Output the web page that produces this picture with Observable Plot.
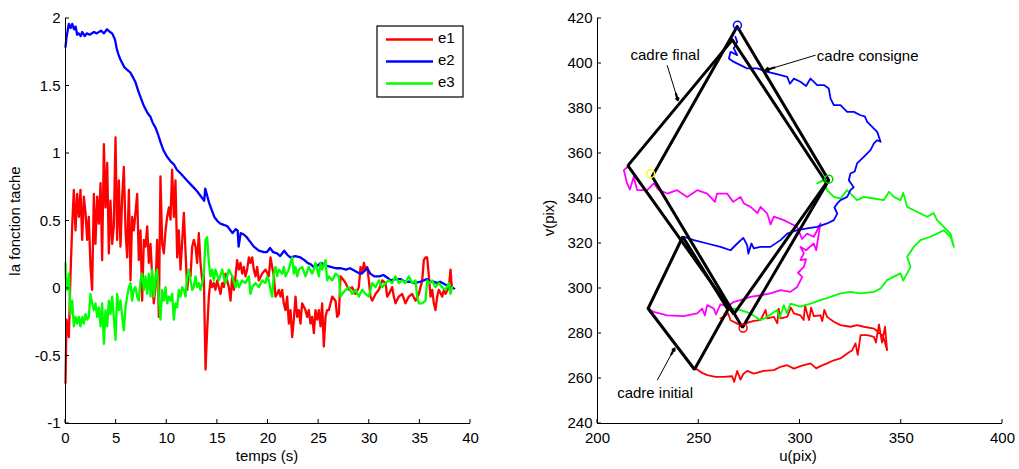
<!DOCTYPE html>
<html><head><meta charset="utf-8">
<script src="https://cdn.jsdelivr.net/npm/d3@7"></script>
<script src="https://cdn.jsdelivr.net/npm/@observablehq/plot@0.6"></script>
<style>
body{margin:0;background:#fff;}
#wrap{display:flex;width:1019px;height:469px;}
svg{font-family:"Liberation Sans",Arial,sans-serif;}
</style></head><body><div id="wrap"></div>
<script>
// ---------- Left panel data ----------
const tTicks = [0,5,10,15,20,25,30,35,40];
const eTicks = [-1,-0.5,0,0.5,1,1.5,2];
const seriesNames = ["e1","e2","e3"];
const seriesColors = ["#ff0000","#0000ff","#00ff00"];

const e1 = [[0,-0.70],[0.1,-0.23],[0.33,-0.36],[0.49,0.09],[0.66,0.46],[0.82,0.73],[0.99,0.43],[1.15,0.70],[1.32,0.53],[1.48,0.73],[1.65,0.36],[1.81,0.68],[1.98,0.56],[2.14,0.36],[2.30,0.53],[2.47,0.16],[2.63,-0.01],[2.80,0.70],[2.96,0.33],[3.13,0.68],[3.29,0.48],[3.46,0.78],[3.62,0.21],[3.79,1.07],[3.95,0.60],[4.12,0.93],[4.28,0.26],[4.44,0.65],[4.61,0.33],[4.77,0.46],[4.94,1.12],[5.10,0.36],[5.27,0.80],[5.43,0.31],[5.60,0.68],[5.76,0.90],[5.93,0.43],[6.09,0.23],[6.26,0.73],[6.42,0.06],[6.58,0.53],[6.75,0.43],[6.91,0.56],[7.08,0.70],[7.24,0.21],[7.41,0.43],[7.57,-0.09],[7.74,0.36],[7.90,0.31],[8.07,0.46],[8.23,0.19],[8.40,0.33],[8.56,0.09],[8.72,-0.11],[8.89,0.01],[9.05,0.36],[9.22,-0.21],[9.38,0.83],[9.55,0.33],[9.71,0.26],[9.88,0.43],[10.04,0.53],[10.21,0.60],[10.37,0.51],[10.53,0.88],[10.70,0.53],[10.86,0.80],[11.03,0.23],[11.19,0.43],[11.36,0.14],[11.69,0.56],[11.85,0.28],[12.02,-0.01],[12.18,0.11],[12.35,0.09],[12.51,0.31],[12.67,0.36],[12.84,0.31],[13.00,0.19],[13.17,0.41],[13.33,0.19],[13.50,0.06],[13.66,0.10],[13.83,-0.60],[13.99,-0.31],[14.16,-0.06],[14.32,0.06],[14.49,0.01],[14.65,0.04],[14.81,-0.01],[14.98,0.06],[15.14,0.01],[15.31,-0.04],[15.47,0.04],[15.64,0.01],[15.80,0.11],[16.13,0.01],[16.30,-0.09],[16.46,0.09],[16.63,-0.01],[16.79,0.09],[16.95,0.21],[17.12,0.14],[17.28,0.19],[17.45,0.11],[17.61,0.16],[17.78,0.09],[17.94,0.14],[18.11,0.23],[18.27,0.19],[18.44,0.23],[18.60,0.14],[18.77,0.09],[18.93,0.16],[19.09,0.06],[19.42,0.11],[19.75,0.14],[20.08,0.09],[20.25,0.23],[20.41,0.16],[20.58,0.09],[20.74,-0.06],[20.91,-0.04],[21.07,-0.01],[21.23,-0.06],[21.40,-0.01],[21.56,-0.11],[21.73,-0.16],[21.89,-0.06],[22.06,-0.26],[22.22,-0.16],[22.39,-0.36],[22.55,-0.23],[22.72,-0.06],[22.88,-0.21],[23.05,-0.16],[23.21,-0.26],[23.37,-0.11],[23.70,-0.16],[23.87,-0.21],[24.03,-0.16],[24.20,-0.26],[24.36,-0.21],[24.53,-0.33],[24.69,-0.16],[24.86,-0.23],[25.02,-0.16],[25.19,-0.28],[25.35,-0.11],[25.51,-0.43],[25.68,-0.21],[25.84,-0.16],[26.01,-0.16],[26.34,-0.06],[26.67,-0.09],[26.83,-0.21],[27.0,-0.19],[27.16,0.09],[27.49,0.06],[27.66,0.04],[27.98,-0.01],[28.31,0.01],[28.64,-0.04],[28.97,0.01],[29.14,0.16],[29.30,0.11],[29.47,0.19],[29.63,0.14],[29.80,0.16],[29.96,0.06],[30.12,-0.06],[30.29,-0.09],[30.62,-0.04],[30.95,-0.01],[31.28,0.06],[31.61,0.04],[31.77,-0.06],[31.94,-0.04],[32.26,0.01],[32.43,-0.06],[32.59,-0.11],[32.92,-0.06],[33.25,-0.04],[33.58,-0.11],[33.91,-0.06],[34.24,-0.04],[34.57,-0.09],[34.90,-0.04],[35.23,0.06],[35.39,0.21],[35.56,0.23],[35.72,0.23],[35.89,0.09],[36.05,-0.06],[36.22,-0.01],[36.38,-0.11],[36.54,-0.16],[36.71,-0.06],[36.87,-0.01],[37.20,-0.06],[37.37,-0.01],[37.53,-0.04],[37.86,0.01],[38.03,0.14],[38.12,0.04],[38.19,0.01]];

const e2 = [[0,1.79],[0.1,1.86],[0.33,1.96],[0.5,1.93],[0.66,1.96],[0.85,1.92],[1.0,1.94],[1.15,1.88],[1.3,1.89],[1.5,1.87],[1.65,1.90],[1.9,1.87],[2.1,1.89],[2.4,1.88],[2.8,1.90],[3.1,1.89],[3.5,1.91],[3.8,1.89],[4.1,1.92],[4.4,1.90],[4.6,1.89],[4.8,1.86],[4.9,1.84],[5.05,1.78],[5.2,1.74],[5.3,1.72],[5.4,1.70],[5.6,1.67],[5.8,1.64],[6.1,1.62],[6.4,1.60],[6.7,1.56],[6.9,1.53],[7.2,1.46],[7.4,1.42],[7.7,1.36],[8.1,1.30],[8.4,1.27],[8.6,1.23],[8.9,1.19],[9.1,1.15],[9.4,1.08],[9.7,1.02],[10.0,0.98],[10.4,0.94],[10.7,0.92],[11.0,0.88],[11.4,0.85],[12.0,0.80],[12.5,0.76],[13.0,0.72],[13.4,0.68],[13.7,0.65],[13.8,0.74],[13.95,0.70],[14.2,0.63],[14.5,0.57],[14.7,0.53],[15.0,0.50],[15.3,0.48],[15.7,0.47],[16.0,0.46],[16.3,0.43],[16.5,0.41],[16.8,0.44],[17.0,0.43],[17.1,0.31],[17.3,0.41],[17.6,0.40],[17.9,0.38],[18.3,0.34],[18.6,0.31],[19.1,0.28],[19.6,0.27],[19.9,0.27],[20.2,0.30],[20.5,0.27],[20.9,0.26],[21.2,0.24],[21.6,0.28],[21.9,0.25],[22.2,0.23],[22.7,0.24],[23.2,0.23],[23.6,0.21],[23.9,0.19],[24.2,0.18],[24.5,0.16],[24.9,0.17],[25.2,0.19],[25.7,0.17],[26.2,0.16],[26.7,0.15],[27.2,0.15],[27.7,0.14],[28.1,0.15],[28.6,0.13],[29.1,0.11],[29.4,0.12],[29.8,0.15],[30.1,0.11],[30.5,0.09],[31.0,0.09],[31.4,0.10],[31.8,0.08],[32.1,0.06],[32.6,0.07],[33.1,0.07],[33.5,0.05],[34.0,0.05],[34.5,0.04],[35.0,0.05],[35.4,0.06],[35.7,0.07],[36.0,0.05],[36.4,0.05],[36.7,0.04],[37.0,0.05],[37.5,0.03],[38.0,0.01],[38.4,0.0]];

const e3 = [[0,0.19],[0.02,0.09],[0.16,-0.01],[0.33,0.11],[0.49,-0.19],[0.66,-0.09],[0.82,-0.28],[0.99,-0.21],[1.15,-0.26],[1.32,-0.21],[1.48,-0.28],[1.65,-0.21],[1.81,-0.26],[1.98,-0.19],[2.14,-0.23],[2.30,-0.21],[2.47,-0.04],[2.63,-0.11],[2.80,-0.16],[2.96,-0.11],[3.13,-0.21],[3.29,-0.14],[3.46,-0.28],[3.62,-0.11],[3.79,-0.41],[3.95,-0.16],[4.12,-0.28],[4.28,-0.09],[4.44,-0.19],[4.61,-0.06],[4.77,-0.21],[4.94,-0.38],[5.10,-0.04],[5.27,-0.16],[5.43,-0.09],[5.60,-0.21],[5.76,-0.31],[5.93,-0.14],[6.09,-0.06],[6.26,0.01],[6.42,0.04],[6.58,-0.09],[6.75,-0.01],[6.91,0.01],[7.08,-0.06],[7.24,-0.09],[7.41,0.06],[7.57,0.11],[7.74,-0.01],[7.90,0.09],[8.07,-0.04],[8.23,0.11],[8.40,-0.06],[8.56,0.14],[8.72,-0.06],[8.89,0.09],[9.05,0.14],[9.22,-0.06],[9.38,-0.23],[9.55,-0.01],[9.71,-0.09],[9.88,0.01],[10.04,-0.11],[10.21,-0.06],[10.37,-0.09],[10.53,-0.04],[10.70,-0.23],[10.86,-0.11],[11.03,-0.14],[11.19,-0.01],[11.36,-0.06],[11.52,0.01],[11.69,-0.01],[11.85,-0.06],[12.02,0.09],[12.18,0.14],[12.35,0.06],[12.51,-0.01],[12.67,0.01],[12.84,0.09],[13.00,0.01],[13.17,0.04],[13.33,-0.01],[13.50,0.04],[13.66,0.11],[13.83,0.36],[13.99,0.38],[14.16,0.19],[14.32,0.09],[14.49,0.14],[14.65,0.06],[14.81,0.14],[15.14,0.06],[15.47,0.14],[15.80,0.04],[16.13,0.14],[16.46,0.09],[16.79,0.01],[16.95,0.06],[17.12,0.01],[17.45,0.06],[17.78,0.04],[18.11,0.09],[18.27,-0.04],[18.44,0.01],[18.77,0.04],[19.09,0.01],[19.42,0.06],[19.75,0.04],[19.91,0.09],[20.08,0.06],[20.25,-0.01],[20.41,-0.06],[20.58,0.11],[20.74,0.16],[20.91,0.09],[21.07,0.14],[21.40,0.11],[21.56,0.16],[21.73,0.09],[22.06,0.14],[22.22,0.19],[22.39,0.23],[22.55,0.11],[22.72,0.16],[22.88,0.09],[23.05,0.14],[23.37,0.16],[23.70,0.09],[24.03,0.16],[24.36,0.11],[24.53,0.14],[24.69,0.19],[24.86,0.14],[25.02,0.09],[25.19,0.19],[25.35,0.14],[25.68,0.21],[25.84,0.06],[26.01,0.09],[26.34,0.06],[26.67,0.11],[27.0,0.09],[27.16,-0.06],[27.33,-0.04],[27.66,-0.01],[27.98,0.01],[28.31,-0.04],[28.64,-0.01],[28.97,-0.06],[29.30,-0.01],[29.63,-0.04],[29.96,-0.06],[30.29,0.04],[30.62,0.01],[30.95,0.06],[31.28,0.01],[31.61,0.04],[31.94,0.06],[32.26,0.04],[32.59,0.09],[32.92,0.04],[33.25,0.06],[33.58,0.04],[33.91,0.09],[34.24,0.04],[34.57,0.06],[34.73,-0.06],[34.90,-0.11],[35.23,-0.11],[35.56,-0.09],[35.72,0.06],[35.89,0.04],[36.22,0.06],[36.54,0.01],[36.87,0.04],[37.20,0.01],[37.53,-0.01],[37.86,0.04],[38.03,-0.04],[38.19,0.01]];

// ---------- Right panel data ----------
const uTicks = [200,250,300,350,400];
const vTicks = [240,260,280,300,320,340,360,380,400,420];

const trajRed = [[248.4,264.4],[251.7,262.5],[254.2,261.5],[258.3,260.7],[262.4,260.7],[266.5,261.0],[267.5,258.5],[269.0,263.4],[270.6,259.5],[272.0,262.0],[273.9,263.4],[277.2,262.2],[282.1,263.4],[287.1,263.7],[290.4,265.2],[293.7,265.9],[297.0,264.4],[300.2,265.5],[305.2,266.7],[308.0,264.5],[310.1,265.5],[313.4,266.7],[316.7,268.1],[320.0,268.9],[323.3,271.1],[325.8,272.6],[327.4,275.6],[328.5,270.5],[329.1,274.1],[329.9,279.3],[333.2,279.3],[336.5,278.5],[337.5,276.0],[339.0,284.0],[340.5,276.0],[342.0,283.0],[343.0,272.6],[341.0,279.0],[336.5,282.2],[331.5,283.0],[328.2,283.7],[324.9,283.0],[320.0,283.7],[316.7,285.2],[313.4,287.4],[312.0,290.5],[311.0,285.5],[310.1,288.1],[306.8,287.7],[305.5,291.5],[304.5,286.0],[303.5,288.9],[302.5,292.5],[301.8,286.0],[300.2,288.1],[297.0,288.9],[295.5,291.5],[293.7,287.4],[290.4,286.7],[289.5,291.0],[288.8,284.5],[287.1,287.4],[283.8,286.7],[283.0,290.5],[280.5,285.9],[277.2,285.6],[273.9,284.7],[271.4,283.0],[269.0,284.4],[265.7,285.9],[264.5,289.0],[262.4,287.4],[260.7,286.7],[263.2,288.1]];

const trajMagenta = [[225.0,291.1],[227.8,289.6],[234.4,288.1],[242.6,287.7],[249.2,288.9],[251.7,291.1],[253.0,288.0],[254.2,292.6],[257.4,291.1],[258.5,288.5],[260.7,293.0],[264.0,291.9],[267.3,294.1],[270.6,294.8],[275.6,296.3],[280.5,297.0],[285.4,297.8],[290.4,299.3],[295.3,298.5],[298.6,300.7],[301.1,305.2],[299.0,307.0],[301.9,309.6],[303.0,313.0],[300.2,312.6],[301.9,315.6],[300.2,318.5],[303.0,317.0],[306.8,320.0],[308.0,317.0],[310.1,328.9],[308.5,325.9],[306.8,323.0],[303.5,324.4],[301.0,322.0],[298.6,327.4],[295.3,328.9],[292.0,330.4],[287.1,331.9],[285.5,328.5],[283.8,333.3],[280.5,336.3],[279.0,333.5],[275.6,336.3],[272.3,337.8],[270.6,340.7],[267.0,338.5],[264.0,342.2],[259.1,342.2],[258.0,338.5],[254.2,342.2],[249.2,343.7],[244.3,340.7],[239.3,343.7],[234.4,342.2],[230.0,344.0],[227.8,346.7],[224.5,343.7],[219.6,343.7],[217.9,349.6],[216.0,344.0],[214.6,346.7],[213.0,352.6],[215.0,354.1]];

const trajBlue = [[242.6,323.0],[247.6,321.5],[254.2,320.0],[260.7,318.5],[265.7,317.0],[269.0,320.0],[272.0,322.5],[273.9,319.3],[274.5,315.5],[276.0,320.0],[277.2,317.8],[280.5,318.5],[285.4,318.5],[290.4,321.5],[293.7,324.4],[298.6,325.9],[303.5,326.7],[308.5,327.4],[313.4,328.9],[316.7,330.4],[318.4,333.3],[317.0,336.0],[318.4,337.8],[320.0,339.3],[323.3,340.7],[324.9,343.7],[326.5,345.0],[324.1,348.1],[324.9,351.1],[327.0,352.0],[328.2,355.6],[331.5,358.5],[334.8,361.5],[336.5,364.5],[338.1,365.9],[339.8,365.2],[338.1,369.6],[336.5,371.1],[333.2,374.1],[332.0,376.5],[329.9,377.0],[326.6,378.5],[323.3,378.5],[320.0,381.5],[316.7,381.5],[315.1,384.4],[314.2,388.9],[311.8,390.4],[308.5,390.4],[305.2,393.3],[303.0,390.0],[300.2,391.9],[297.0,393.3],[295.0,391.0],[293.7,394.1],[290.4,394.8],[287.1,395.6],[283.8,396.3],[278.9,397.8],[273.9,397.8],[270.6,399.3],[267.3,400.7],[264.9,402.2],[265.7,405.2],[269.0,403.7],[267.3,406.7],[269.0,409.6],[268.1,411.9]];

const trajGreen = [[264.4,290.7],[267.3,291.1],[270.6,290.4],[275.6,288.9],[280.5,285.9],[283.8,287.4],[288.7,290.4],[290.0,287.0],[292.0,292.6],[293.5,289.0],[295.3,293.3],[300.2,291.9],[305.2,293.3],[310.1,294.8],[315.1,296.3],[320.0,297.8],[324.9,298.5],[329.9,297.8],[336.5,298.5],[339.8,300.0],[343.0,303.7],[349.6,306.7],[351.0,303.5],[354.6,309.6],[352.9,314.1],[356.2,318.5],[359.5,321.5],[364.4,323.0],[367.7,324.4],[371.0,325.9],[374.3,323.0],[376.0,318.5],[374.3,324.4],[371.0,327.4],[367.7,330.4],[366.0,333.5],[362.8,331.9],[356.2,334.8],[352.9,336.3],[351.0,342.5],[349.6,339.3],[346.3,340.7],[344.0,343.0],[341.4,339.3],[336.5,340.0],[331.5,340.7],[328.2,339.3],[324.9,342.2],[323.3,343.7],[320.0,340.0],[316.7,340.7],[313.4,343.7],[311.8,348.1],[308.5,346.7],[313.4,349.6]];

const cadreInitial = [[225.0,291.1],[242.1,323.0],[264.4,290.7],[247.9,264.0],[225.0,291.1]];
const cadreFinal = [[266.6,410.5],[313.1,347.0],[267.3,288.6],[215.0,354.6],[266.6,410.5]];
const cadreConsigne = [[269.0,416.4],[314.2,348.1],[271.6,282.7],[227.0,349.8],[269.0,416.4]];
const consignePoints = [[269.1,417.0,"#0000ff"],[314.2,348.6,"#00cc00"],[271.9,282.4,"#ff0000"],[226.2,351.0,"#ffff00"]];

const annotations = [
  {text:"cadre final",    tx:216.3, ty:403.7, u1:234.4, v1:399.2, u2:239.7, v2:383.7},
  {text:"cadre consigne", tx:308.3, ty:403.2, u1:307.7, v1:403.7, u2:283.0, v2:397.0},
  {text:"cadre initial",  tx:209.7, ty:253.5, u1:229.5, v1:259.2, u2:238.0, v2:273.3}
];

const FONT = "'Liberation Sans', Arial, sans-serif";
const fmt = d => String(d);

function addInwardTicks(plot, xt, yt, len) {
  const sx = plot.scale("x"), sy = plot.scale("y");
  const svg = d3.select(plot);
  const x0 = sx.apply(sx.domain[0]), y0 = sy.apply(sy.domain[0]);
  const g = svg.append("g").attr("stroke","#000").attr("stroke-width",1);
  xt.forEach(t => { const x = sx.apply(t);
    g.append("line").attr("x1",x).attr("x2",x).attr("y1",y0).attr("y2",y0-len); });
  yt.forEach(t => { const y = sy.apply(t);
    g.append("line").attr("x1",x0).attr("x2",x0+len).attr("y1",y).attr("y2",y); });
}

function addText(plot, x, y, txt, rotate) {
  const t = d3.select(plot).append("text")
    .attr("x", x).attr("y", y).attr("text-anchor","middle")
    .attr("dominant-baseline","middle").attr("font-size",15)
    .attr("font-family",FONT).attr("fill","#000").text(txt);
  if (rotate) t.attr("transform",`rotate(-90 ${x} ${y})`);
}

// ---------- Left plot ----------
const left = Plot.plot({
  width: 520, height: 469,
  marginLeft: 65, marginRight: 50, marginTop: 18, marginBottom: 46,
  style: {fontSize: "15px", fontFamily: FONT, color: "#000", background: "#fff"},
  x: {domain: [0,40]},
  y: {domain: [-1,2]},
  marks: [
    Plot.axisX({ticks: tTicks, tickSize: 0, tickPadding: 9, tickFormat: fmt, label: null}),
    Plot.axisY({ticks: eTicks, tickSize: 0, tickPadding: 5, tickFormat: fmt, label: null}),
    Plot.line(e1, {stroke: seriesColors[0], strokeWidth: 2.3}),
    Plot.line(e2, {stroke: seriesColors[1], strokeWidth: 2.3}),
    Plot.line(e3, {stroke: seriesColors[2], strokeWidth: 2.3}),
    Plot.ruleX([0], {stroke: "#000"}),
    Plot.ruleY([-1], {stroke: "#000"})
  ]
});
addInwardTicks(left, tTicks, eTicks, 4);
addText(left, 267, 457, "temps (s)");
addText(left, 16, 221, "la fonction tache", true);
{
  const svg = d3.select(left);
  const lg = svg.append("g");
  lg.append("rect").attr("x",377).attr("y",26).attr("width",86).attr("height",71)
    .attr("fill","#fff").attr("stroke","#000").attr("stroke-width",1.2);
  seriesNames.forEach((n,i) => {
    const y = 39.5 + i*22;
    lg.append("line").attr("x1",386).attr("x2",433).attr("y1",y).attr("y2",y)
      .attr("stroke",seriesColors[i]).attr("stroke-width",2.3);
    lg.append("text").attr("x",438).attr("y",y).attr("dominant-baseline","middle")
      .attr("text-anchor","start")
      .attr("font-size",15).attr("font-family",FONT).attr("fill","#000").text(n);
  });
}

// ---------- Right plot ----------
const headFrac = 0.82;
const right = Plot.plot({
  width: 499, height: 469,
  marginLeft: 77, marginRight: 17, marginTop: 18, marginBottom: 46,
  style: {fontSize: "15px", fontFamily: FONT, color: "#000", background: "#fff"},
  x: {domain: [200,400]},
  y: {domain: [240,420]},
  marks: [
    Plot.axisX({ticks: uTicks, tickSize: 0, tickPadding: 9, tickFormat: fmt, label: null}),
    Plot.axisY({ticks: vTicks, tickSize: 0, tickPadding: 5, tickFormat: fmt, label: null}),
    Plot.line(trajRed, {stroke: "#ff0000", strokeWidth: 1.8}),
    Plot.line(trajGreen, {stroke: "#00ff00", strokeWidth: 1.8}),
    Plot.line(trajMagenta, {stroke: "#ff00ff", strokeWidth: 1.8}),
    Plot.line(trajBlue, {stroke: "#0000ff", strokeWidth: 1.8}),
    Plot.line(cadreInitial, {stroke: "#000", strokeWidth: 3, strokeLinejoin: "miter"}),
    Plot.line(cadreFinal, {stroke: "#000", strokeWidth: 3, strokeLinejoin: "miter"}),
    Plot.line(cadreConsigne, {stroke: "#000", strokeWidth: 3, strokeLinejoin: "miter"}),
    Plot.dot(consignePoints, {x: d=>d[0], y: d=>d[1], stroke: d=>d[2], r: 4, strokeWidth: 1.5, fill: "none"}),
    Plot.link(annotations, {x1:"u1", y1:"v1", x2:"u2", y2:"v2", stroke:"#000", strokeWidth:1}),
    Plot.arrow(annotations, {x1: d=>d.u1+(d.u2-d.u1)*headFrac, y1: d=>d.v1+(d.v2-d.v1)*headFrac, x2:"u2", y2:"v2",
      stroke:"#000", strokeWidth:2.2, headLength: 11}),
    Plot.text(annotations, {x:"tx", y:"ty", text:"text", textAnchor:"start", fontSize: 15, fill:"#000"}),
    Plot.ruleX([200], {stroke: "#000"}),
    Plot.ruleY([240], {stroke: "#000"})
  ]
});
addInwardTicks(right, uTicks, vTicks, 4);
addText(right, 278, 457, "u(pix)");
addText(right, 30, 218, "v(pix)", true);

document.getElementById("wrap").append(left, right);
</script></body></html>
